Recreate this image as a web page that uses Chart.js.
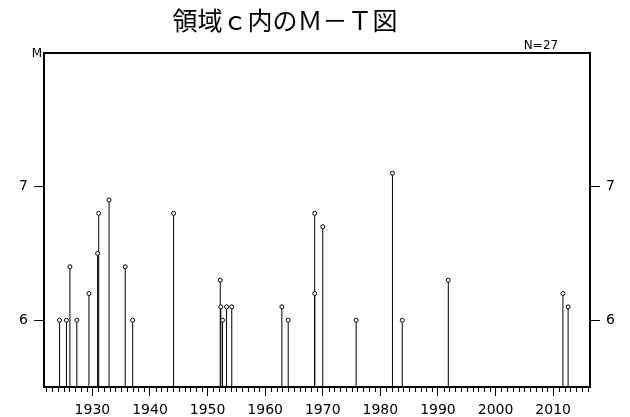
<!DOCTYPE html>
<html>
<head>
<meta charset="utf-8">
<script src="https://cdn.jsdelivr.net/npm/chart.js@4/dist/chart.umd.min.js"></script>
<style>
  html, body { margin: 0; padding: 0; background: #fff; }
  #wrap { position: relative; width: 630px; height: 417px; }
</style>
</head>
<body>
<div id="wrap"><canvas id="c" width="630" height="417"></canvas></div>
<script>
// Event times (decimal year) and magnitudes
const years = [1924.3, 1925.5, 1926.1, 1927.3, 1929.4, 1930.9, 1931.1, 1932.9, 1935.7, 1937.0,
               1944.1, 1952.2, 1952.3, 1952.6, 1953.3, 1954.2, 1962.9, 1964.0, 1968.6, 1968.6,
               1970.0, 1975.8, 1982.1, 1983.8, 1991.8, 2011.7, 2012.6];
const mags  = [6.0, 6.0, 6.4, 6.0, 6.2, 6.5, 6.8, 6.9, 6.4, 6.0,
               6.8, 6.3, 6.1, 6.0, 6.1, 6.1, 6.1, 6.0, 6.8, 6.2,
               6.7, 6.0, 7.1, 6.0, 6.3, 6.2, 6.1];
const yearTicks = [1930, 1940, 1950, 1960, 1970, 1980, 1990, 2000, 2010];
const magTicks = [6, 7];
const titleText = '領域ｃ内のＭ－Ｔ図';
const countText = 'N=' + years.length;

const points = years.map((y, i) => ({ x: y, y: mags[i] }));
const numFont = { family: 'DejaVu Sans', size: 14 };

// Stems from each event down to the bottom of the plot, yearly minor ticks, frame and labels
const mtPlugin = {
  id: 'mtPlugin',
  beforeDatasetsDraw(chart) {
    const { ctx, chartArea, scales } = chart;
    ctx.save();
    ctx.strokeStyle = '#000';
    ctx.lineWidth = 1;
    points.forEach(p => {
      const px = scales.x.getPixelForValue(p.x);
      const py = scales.y.getPixelForValue(p.y);
      ctx.beginPath();
      ctx.moveTo(px, chartArea.bottom);
      ctx.lineTo(px, py + 2);
      ctx.stroke();
    });
    ctx.restore();
  },
  afterDraw(chart) {
    const { ctx, chartArea, scales } = chart;
    ctx.save();
    // minor yearly ticks
    ctx.strokeStyle = '#000';
    ctx.lineWidth = 1;
    const first = Math.ceil(scales.x.min);
    const last = Math.floor(scales.x.max);
    for (let yr = first; yr <= last; yr++) {
      if (yr % 10 === 0) continue;
      const px = Math.round(scales.x.getPixelForValue(yr)) + 0.5;
      ctx.beginPath();
      ctx.moveTo(px, chartArea.bottom);
      ctx.lineTo(px, chartArea.bottom + 5);
      ctx.stroke();
    }
    // frame
    ctx.lineWidth = 2;
    ctx.strokeRect(chartArea.left, chartArea.top, chartArea.right - chartArea.left, chartArea.bottom - chartArea.top);
    // texts
    ctx.fillStyle = '#000';
    ctx.textBaseline = 'alphabetic';
    ctx.textAlign = 'center';
    ctx.font = '25px "Noto Sans CJK JP"';
    ctx.fillText(titleText, 285, 30);
    ctx.font = '12px "DejaVu Sans"';
    ctx.fillText(countText, 541, 49);
    ctx.fillText('M', 37, 57);
    ctx.restore();
  }
};

new Chart(document.getElementById('c'), {
  type: 'scatter',
  data: {
    datasets: [{
      data: points,
      pointRadius: 2,
      pointBorderWidth: 1,
      pointBorderColor: '#000',
      pointBackgroundColor: '#fff',
      pointHoverRadius: 2
    }]
  },
  options: {
    responsive: false,
    animation: false,
    events: [],
    layout: { padding: { top: 53, left: 0, right: 0, bottom: 0 } },
    plugins: { legend: { display: false }, tooltip: { enabled: false }, title: { display: false } },
    scales: {
      x: {
        type: 'linear',
        position: 'bottom',
        min: 1921.6,
        max: 2016.4,
        afterBuildTicks: s => { s.ticks = yearTicks.map(v => ({ value: v })); },
        afterFit: s => { s.height = 30; },
        border: { display: false },
        grid: { drawOnChartArea: false, drawTicks: true, tickLength: 9, color: '#000', tickColor: '#000' },
        ticks: { color: '#000', font: numFont, padding: 6, maxRotation: 0, autoSkip: false, callback: v => String(v) }
      },
      y: {
        type: 'linear',
        position: 'left',
        min: 5.5,
        max: 8.0,
        afterBuildTicks: s => { s.ticks = magTicks.map(v => ({ value: v })); },
        afterFit: s => { s.width = 44; },
        border: { display: false },
        grid: { drawOnChartArea: false, drawTicks: true, tickLength: 10, color: '#000', tickColor: '#000' },
        ticks: { color: '#000', font: numFont, padding: 6, callback: v => String(v) }
      },
      y2: {
        type: 'linear',
        position: 'right',
        min: 5.5,
        max: 8.0,
        afterBuildTicks: s => { s.ticks = magTicks.map(v => ({ value: v })); },
        afterFit: s => { s.width = 40; },
        border: { display: false },
        grid: { drawOnChartArea: false, drawTicks: true, tickLength: 10, color: '#000', tickColor: '#000' },
        ticks: { color: '#000', font: numFont, padding: 6, callback: v => String(v) }
      }
    }
  },
  plugins: [mtPlugin]
});
</script>
</body>
</html>
